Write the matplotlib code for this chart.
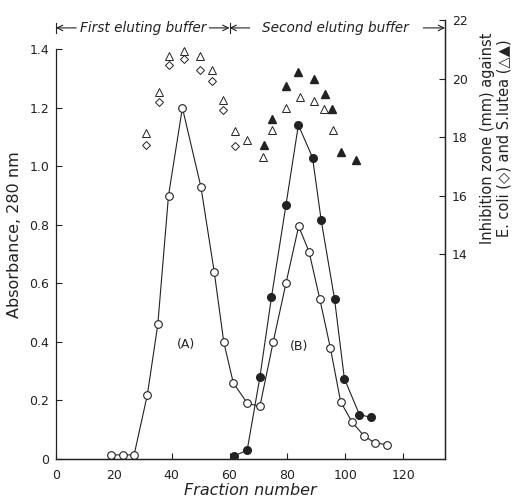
import matplotlib
matplotlib.use("Agg")
import matplotlib.pyplot as plt
from matplotlib.ticker import FixedLocator, FuncFormatter

plt.rcParams["font.family"] = ["DejaVu Sans"]
INK = "#222222"

# absorbance at 280 nm, open circles (one continuous line through peaks A and B)
frac_open = [19, 23, 27, 31.6, 35.2, 38.9, 43.7, 50.1, 54.7, 58.0, 61.3, 66.2,
             70.5, 75.1, 79.5, 83.9, 87.5, 91.2, 94.9, 98.4, 102.3, 106.4, 110.2, 114.5]
abs_open = [0.014, 0.014, 0.014, 0.22, 0.46, 0.90, 1.20, 0.93, 0.64, 0.40, 0.26, 0.19,
            0.18, 0.40, 0.60, 0.795, 0.708, 0.547, 0.378, 0.196, 0.127, 0.08, 0.055, 0.049]

# filled circles
frac_filled = [61.5, 66.1, 70.5, 74.5, 79.5, 83.8, 88.7, 91.7, 96.3, 99.7, 104.9, 108.9]
abs_filled = [0.01, 0.03, 0.28, 0.553, 0.867, 1.141, 1.03, 0.815, 0.547, 0.275, 0.152, 0.142]

# inhibition zones (mm)
frac_ecoli = [31.0, 35.7, 38.9, 44.2, 49.8, 54.0, 57.8, 61.8]
zone_ecoli = [17.72, 19.2, 20.47, 20.67, 20.30, 19.93, 18.93, 17.69]

frac_tri_open = [31.0, 35.7, 38.9, 44.2, 49.8, 54.0, 57.8, 61.8, 66.1, 71.7,
                 74.7, 79.4, 84.3, 89.2, 92.8, 95.7]
zone_tri_open = [18.14, 19.54, 20.77, 20.93, 20.76, 20.30, 19.28, 18.2, 17.89, 17.32,
                 18.24, 18.99, 19.37, 19.22, 18.96, 18.24]

frac_tri_filled = [71.9, 74.7, 79.4, 83.6, 89.2, 93.1, 95.6, 98.7, 103.7]
zone_tri_filled = [17.72, 18.63, 19.75, 20.23, 19.99, 19.47, 18.97, 17.5, 17.23]

x_ticks = [0, 20, 40, 60, 80, 100, 120]
y_ticks = [0, 0.2, 0.4, 0.6, 0.8, 1.0, 1.2, 1.4]
y2_ticks = [14, 16, 18, 20, 22]

fig = plt.figure(figsize=(5.13, 5.01), dpi=100)
ax = fig.add_axes([56 / 513, 42 / 501, 389 / 513, 439 / 501])
ax2 = ax.twinx()

ax.plot(frac_open, abs_open, "-o", color=INK, lw=0.8, ms=5.5,
        mfc="white", mec=INK, mew=0.8, zorder=3)
ax.plot(frac_filled, abs_filled, "-o", color=INK, lw=0.8, ms=5.5,
        mfc=INK, mec=INK, zorder=3)

ax2.plot(frac_ecoli, zone_ecoli, "D", ms=3.8, mfc="white", mec=INK, mew=0.7, ls="none")
ax2.plot(frac_tri_open, zone_tri_open, "^", ms=5.5, mfc="white", mec=INK, mew=0.7, ls="none")
ax2.plot(frac_tri_filled, zone_tri_filled, "^", ms=5.5, mfc=INK, mec=INK, ls="none")

ax.set_xlim(0, 134.5)
ax.set_ylim(0, 1.5)
ax2.set_ylim(7.02, 22)

for a in (ax, ax2):
    a.spines["top"].set_visible(False)
    for s in a.spines.values():
        s.set_color(INK)
        s.set_linewidth(0.9)
ax.spines["left"].set_bounds(0, 1.4)
ax2.spines["left"].set_visible(False)

ax.xaxis.set_major_locator(FixedLocator(x_ticks))
ax.yaxis.set_major_locator(FixedLocator(y_ticks))
ax2.yaxis.set_major_locator(FixedLocator(y2_ticks))
ax.yaxis.set_major_formatter(FuncFormatter(lambda v, p: "0" if v == 0 else f"{v:.1f}"))
ax.tick_params(direction="in", length=4, width=0.8, colors=INK, labelsize=9)
ax.tick_params(axis="x", pad=7)
ax.tick_params(axis="y", pad=5)
ax2.tick_params(direction="in", length=4, width=0.8, colors=INK, labelsize=9, pad=5)

ax.set_xlabel("Fraction number", fontsize=11.5, color=INK, style="italic", labelpad=1)
fig.text(15 / 513, 1 - 235 / 501, "Absorbance, 280 nm", rotation=90, fontsize=11.5,
         color=INK, ha="center", va="center")
fig.text(496 / 513, 1 - 138 / 501,
         "Inhibition zone (mm) against\nE. coli (\u25C7) and S.lutea (\u25B3\u25B2)",
         rotation=90, fontsize=10.5, color=INK, ha="center", va="center",
         linespacing=1.1)

ax.text(45, 0.39, "(A)", fontsize=9, color=INK, ha="center", va="center")
ax.text(84, 0.385, "(B)", fontsize=9, color=INK, ha="center", va="center")

# buffer bands across the top
tr = ax.get_xaxis_transform()
yb = 0.982
arrow = dict(arrowstyle="->", color=INK, lw=0.8, shrinkA=0, shrinkB=0)
for x0 in (0, 60):
    ax.plot([x0, x0], [yb - 0.012, yb + 0.012], color=INK, lw=0.8,
            transform=tr, clip_on=False)
ax.annotate("", xy=(0, yb), xytext=(7, yb), xycoords=tr, textcoords=tr, arrowprops=arrow)
ax.annotate("", xy=(60, yb), xytext=(53, yb), xycoords=tr, textcoords=tr, arrowprops=arrow)
ax.annotate("", xy=(60, yb), xytext=(67, yb), xycoords=tr, textcoords=tr, arrowprops=arrow)
ax.annotate("", xy=(134.5, yb), xytext=(127, yb), xycoords=tr, textcoords=tr, arrowprops=arrow)
ax.text(30, yb, "First eluting buffer", transform=tr, fontsize=9.8, style="italic",
        color=INK, ha="center", va="center")
ax.text(96.5, yb, "Second eluting buffer", transform=tr, fontsize=9.8, style="italic",
        color=INK, ha="center", va="center")

fig.savefig("out.png", dpi=100, facecolor="white")
